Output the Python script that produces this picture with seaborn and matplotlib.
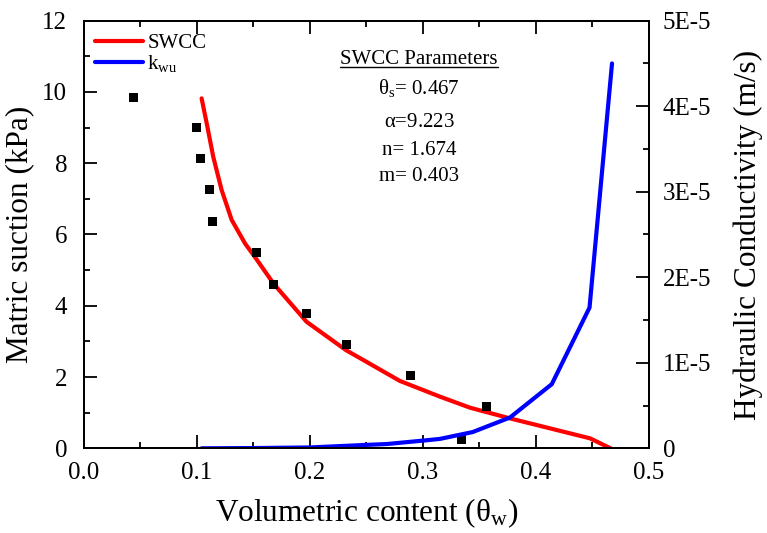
import numpy as np
import pandas as pd
import matplotlib
matplotlib.use("Agg")
from matplotlib import pyplot as plt
from matplotlib.ticker import MultipleLocator, FuncFormatter
from matplotlib.lines import Line2D
import seaborn as sns

# measured points (volumetric content vs matric suction)
theta_pts = [0.044, 0.100, 0.103, 0.111, 0.114, 0.153, 0.168, 0.197, 0.232, 0.289, 0.334, 0.356]
suction_pts = [9.85, 9.00, 8.12, 7.25, 6.36, 5.49, 4.61, 3.78, 2.90, 2.03, 0.26, 1.17]

# fitted SWCC curve
swcc_theta = [0.1041, 0.1086, 0.1144, 0.1218, 0.1307, 0.1425, 0.1528, 0.168, 0.197, 0.2316,
              0.2796, 0.315, 0.3416, 0.377, 0.4124, 0.4478, 0.466]
swcc_suction = [9.82, 9.12, 8.18, 7.25, 6.41, 5.75, 5.30, 4.61, 3.55, 2.76,
                1.89, 1.45, 1.14, 0.84, 0.56, 0.28, 0.0]

# unsaturated hydraulic conductivity
k_theta = [0.104, 0.15, 0.2, 0.25, 0.268, 0.3, 0.315, 0.344, 0.377, 0.414, 0.4474, 0.4673]
k_wu = [0.0, 0.003e-5, 0.01e-5, 0.04e-5, 0.05e-5, 0.09e-5, 0.11e-5, 0.19e-5, 0.36e-5,
        0.75e-5, 1.645e-5, 4.50e-5]

params = [r"$\mathrm{\theta_s}$= 0.467", r"$\mathrm{\alpha}$=9.223", "n= 1.674", "m= 0.403"]
params_y = [10.11, 9.13, 8.35, 7.64]

sns.set_style("ticks")
plt.rcParams['font.family'] = ['Liberation Serif', 'DejaVu Serif']
plt.rcParams['mathtext.fontset'] = 'custom'
plt.rcParams['mathtext.rm'] = 'Liberation Serif'
plt.rcParams['mathtext.it'] = 'Liberation Serif:italic'
for key in ['text.color', 'axes.labelcolor', 'xtick.color', 'ytick.color', 'axes.edgecolor']:
    plt.rcParams[key] = 'black'

pts = pd.DataFrame({'theta': theta_pts, 'suction': suction_pts})
swcc = pd.DataFrame({'theta': swcc_theta, 'suction': swcc_suction})
kdf = pd.DataFrame({'theta': k_theta, 'k': k_wu})

fig = plt.figure(figsize=(7.67, 5.33), dpi=100)
ax = fig.add_axes([0.1095, 0.1589, 0.7366, 0.8023])
ax2 = ax.twinx()

sns.scatterplot(data=pts, x='theta', y='suction', ax=ax, marker='s', s=42,
                color='black', edgecolor='none', zorder=3)
sns.lineplot(data=swcc, x='theta', y='suction', ax=ax, color='#ff0000', lw=3,
             estimator=None, zorder=2)
sns.lineplot(data=kdf, x='theta', y='k', ax=ax2, color='#0000ff', lw=3,
             estimator=None, zorder=2)

ax.set_xlim(0, 0.5)
ax.set_ylim(0, 12)
ax2.set_ylim(0, 5e-5)

ax.xaxis.set_major_locator(MultipleLocator(0.1))
ax.xaxis.set_minor_locator(MultipleLocator(0.05))
ax.yaxis.set_major_locator(MultipleLocator(2))
ax.yaxis.set_minor_locator(MultipleLocator(1))
ax2.yaxis.set_major_locator(MultipleLocator(1e-5))
ax2.yaxis.set_minor_locator(MultipleLocator(0.5e-5))
ax.xaxis.set_major_formatter(FuncFormatter(lambda v, p: f"{v:.1f}"))
ax2.yaxis.set_major_formatter(FuncFormatter(lambda v, p: "0" if abs(v) < 1e-12 else f"{v * 1e5:.0f}E-5"))

ax.tick_params(axis='x', which='both', direction='in', top=True, labelsize=18, pad=10, width=1.3)
ax.tick_params(axis='y', which='both', direction='in', right=False, labelsize=18, pad=12, width=1.3)
ax2.tick_params(axis='y', which='both', direction='in', labelsize=18, pad=10, width=1.3)
for a in (ax, ax2):
    a.tick_params(which='major', length=9.5)
    a.tick_params(which='minor', length=4.5)
    for sp in a.spines.values():
        sp.set_linewidth(1.4)
        sp.set_visible(True)

ax.set_xlabel(r"Volumetric content ($\mathrm{\theta_w}$)", fontsize=22.5, labelpad=9)
ax.set_ylabel("Matric suction (kPa)", fontsize=22.5, labelpad=6)
ax2.set_ylabel("Hydraulic Conductivity (m/s)", fontsize=22.5, labelpad=16)

handles = [Line2D([], [], color='#ff0000', lw=3), Line2D([], [], color='#0000ff', lw=3)]
leg = ax.legend(handles, ["SWCC", r"k$_{\mathrm{wu}}$"], loc='upper left',
                bbox_to_anchor=(0.005, 0.99), frameon=False, fontsize=15,
                handlelength=2.3, handletextpad=0.2, labelspacing=0.0, borderaxespad=0)

title = ax.text(0.2965, 10.9, "SWCC Parameters", ha='center', va='center', fontsize=15)
for txt, yy in zip(params, params_y):
    ax.text(0.2965, yy, txt, ha='center', va='center', fontsize=15)

# underline the parameters heading
fig.canvas.draw()
bb = title.get_window_extent().transformed(fig.transFigure.inverted())
fig.add_artist(Line2D([bb.x0, bb.x1], [bb.y0 + 0.004, bb.y0 + 0.004], color='black', lw=1.0,
                      transform=fig.transFigure))

fig.savefig("out.png", dpi=100)
